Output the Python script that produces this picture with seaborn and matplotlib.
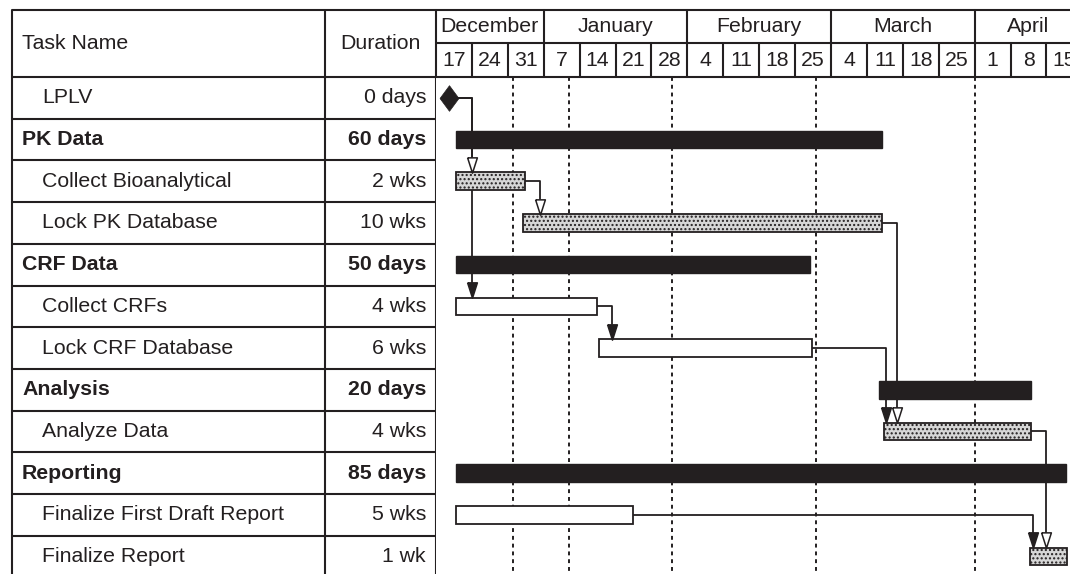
import pandas as pd
import matplotlib
matplotlib.use('Agg')
import matplotlib.pyplot as plt
import seaborn as sns

# task table
tasks = ['LPLV', 'PK Data', 'Collect Bioanalytical', 'Lock PK Database', 'CRF Data',
         'Collect CRFs', 'Lock CRF Database', 'Analysis', 'Analyze Data', 'Reporting',
         'Finalize First Draft Report', 'Finalize Report']
durations = ['0 days', '60 days', '2 wks', '10 wks', '50 days', '4 wks', '6 wks',
             '20 days', '4 wks', '85 days', '5 wks', '1 wk']
kinds = ['milestone', 'summary', 'hatched', 'hatched', 'summary', 'open', 'open',
         'summary', 'hatched', 'summary', 'open', 'hatched']
# days after Dec 17
start = [2.6, 3.9, 3.9, 17.0, 3.9, 3.9, 31.8, 86.4, 87.3, 3.9, 3.9, 115.8]
finish = [2.6, 86.9, 17.35, 86.9, 72.9, 31.4, 73.3, 116.0, 116.0, 122.8, 38.4, 123.0]

# (predecessor, successor, arrow head)
links = [(0, 2, 'open'), (0, 5, 'filled'), (2, 3, 'open'), (3, 8, 'open'),
         (5, 6, 'filled'), (6, 8, 'filled'), (8, 11, 'open'), (10, 11, 'filled')]

# timescale header
months = ['December', 'January', 'February', 'March', 'April']
month_start = [0, 21, 49, 77, 105]
month_end = [21, 49, 77, 105, 126]
week_labels = ['17', '24', '31', '7', '14', '21', '28', '4', '11', '18', '25',
               '4', '11', '18', '25', '1', '8', '15']
week_start = [7 * i for i in range(len(week_labels))]
dashed_days = [15, 26, 46, 74, 105]

df = pd.DataFrame({'task': tasks, 'duration': durations, 'kind': kinds,
                   'start': start, 'finish': finish})
df['row'] = range(len(df))
df['length'] = df['finish'] - df['start']

sns.set_theme(style='white')
plt.rcParams['font.family'] = ['Liberation Sans', 'DejaVu Sans']
plt.rcParams['hatch.linewidth'] = 1.0

dark = '#231f20'
W, H = 1070, 574
px_day = 5.13
row_px = 41.7
head_px = 77
fs = 15.3

fig = plt.figure(figsize=(W / 100, H / 100), dpi=100)
ylim = ((H - head_px) / row_px, -head_px / row_px)
y_top = (10 - head_px) / row_px
y_mid = (43 - head_px) / row_px

tab = fig.add_axes([0, 0, 436 / W, 1])
ax = fig.add_axes([436 / W, 0, (W - 436) / W, 1])
for a in (tab, ax):
    a.set_ylim(*ylim)
    a.axis('off')
tab.set_xlim(0, 436)
xmax = (W - 436) / px_day
ax.set_xlim(0, xmax)

# table grid
lw = 1.5
for x in [12, 325, 435.5]:
    tab.plot([x, x], [y_top, ylim[0]], color=dark, lw=lw, solid_capstyle='butt')
for r in [y_top, 0] + list(range(1, len(tasks))):
    tab.plot([12, 436], [r, r], color=dark, lw=lw)
tab.text(22, y_top / 2, 'Task Name', fontsize=fs, va='center', color=dark)
tab.text(380, y_top / 2, 'Duration', fontsize=fs, va='center', ha='center', color=dark)
for _, t in df.iterrows():
    bold = t['kind'] == 'summary'
    tab.text(22 if bold else 42, t['row'] + 0.5, t['task'], fontsize=fs, va='center',
             color=dark, fontweight='bold' if bold else 'normal')
    tab.text(426, t['row'] + 0.5, t['duration'], fontsize=fs, va='center', ha='right',
             color=dark, fontweight='bold' if bold else 'normal')

# timescale header
for r in [y_top, y_mid, 0]:
    ax.plot([0, xmax], [r, r], color=dark, lw=lw, clip_on=False)
for m, s, e in zip(months, month_start, month_end):
    ax.plot([s, s], [y_top, y_mid], color=dark, lw=lw)
    ax.text((s + e) / 2, (y_top + y_mid) / 2, m, fontsize=fs, ha='center', va='center',
            color=dark)
for w, s in zip(week_labels, week_start):
    ax.plot([s, s], [y_mid, 0], color=dark, lw=lw)
    ax.text(s + 3.5, y_mid / 2, w, fontsize=fs, ha='center', va='center', color=dark)

for d in dashed_days:
    ax.plot([d, d], [0, ylim[0]], color=dark, lw=1.4, ls=(0, (2, 2)), zorder=1)

# bars
bar_h = 0.42
for _, t in df.iterrows():
    if t['kind'] == 'summary':
        ax.barh(t['row'] + 0.5, t['length'], left=t['start'], height=bar_h,
                color=dark, edgecolor=dark, lw=1, zorder=3)
    elif t['kind'] == 'open':
        ax.barh(t['row'] + 0.5, t['length'], left=t['start'], height=bar_h,
                color='white', edgecolor=dark, lw=1.3, zorder=3)
    elif t['kind'] == 'hatched':
        ax.barh(t['row'] + 0.5, t['length'], left=t['start'], height=bar_h,
                color='#d6d6d6', edgecolor=dark, hatch='....', lw=1.3, zorder=3)

ms = df[df['kind'] == 'milestone']
diamond = [(-0.37, 0), (0, 0.5), (0.37, 0), (0, -0.5), (-0.37, 0)]
sns.scatterplot(x=ms['start'], y=ms['row'] + 0.5, marker=diamond,
                s=340, color=dark, edgecolor=dark, linewidth=0.5, ax=ax, zorder=4,
                legend=False)

# dependency links
head_h = 15 / row_px
head = [(-0.32, 0.5), (0.32, 0.5), (0, -0.5), (-0.32, 0.5)]
for p, s, style in links:
    pe = finish[p] if kinds[p] != 'milestone' else start[p] + 1.5
    xd = max(pe + 3, start[s] + 0.5)
    y0 = p + 0.5
    y1 = s + 0.5 - bar_h / 2
    ax.plot([pe, xd, xd], [y0, y0, y1 - head_h], color=dark, lw=1.3, zorder=2)
    ax.plot([xd], [y1 - head_h / 2], marker=head, ms=11, mec=dark, mew=1.1,
            mfc='white' if style == 'open' else dark, zorder=4)

fig.savefig('out.png', dpi=100)
